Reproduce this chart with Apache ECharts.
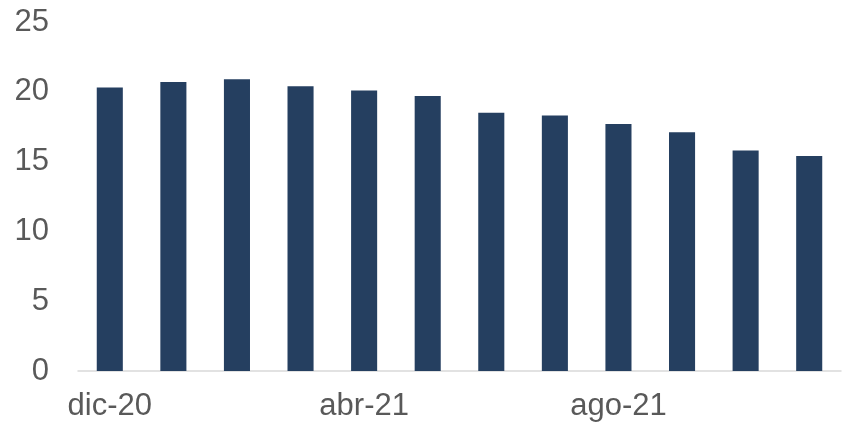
<!DOCTYPE html>
<html>
<head>
<meta charset="utf-8">
<script src="https://cdn.jsdelivr.net/npm/echarts@6/dist/echarts.min.js"></script>
<style>
  html, body { margin: 0; padding: 0; background: #ffffff; }
  #chart { width: 844px; height: 429px; }
</style>
</head>
<body>
<div id="chart"></div>
<script>
// Monthly categories (Dec 2020 – Nov 2021)
const months = ['dic-20', 'ene-21', 'feb-21', 'mar-21', 'abr-21', 'may-21',
                'jun-21', 'jul-21', 'ago-21', 'sep-21', 'oct-21', 'nov-21'];
// Series values
const values = [20.3, 20.7, 20.9, 20.4, 20.1, 19.7, 18.5, 18.3, 17.7, 17.1, 15.8, 15.4];
// Value axis ticks
const yTicks = [0, 5, 10, 15, 20, 25];

const chart = echarts.init(document.getElementById('chart'), null, { renderer: 'canvas' });

chart.setOption({
  animation: false,
  grid: { left: 78, right: 3, top: 22, bottom: 58, containLabel: false },
  xAxis: {
    type: 'category',
    data: months,
    axisLine: { show: true, lineStyle: { color: '#d9d9d9', width: 1.5 } },
    axisTick: { show: false },
    axisLabel: {
      interval: 3,
      color: '#595959',
      fontFamily: 'Liberation Sans, Arial, sans-serif',
      fontSize: 31,
      margin: 20
    }
  },
  yAxis: {
    type: 'value',
    min: yTicks[0],
    max: yTicks[yTicks.length - 1],
    interval: yTicks[1] - yTicks[0],
    splitLine: { show: false },
    axisLine: { show: false },
    axisTick: { show: false },
    axisLabel: {
      color: '#595959',
      fontFamily: 'Liberation Sans, Arial, sans-serif',
      fontSize: 31,
      margin: 29
    }
  },
  series: [{
    type: 'bar',
    data: values,
    barWidth: '41%',
    itemStyle: { color: '#253f60' }
  }]
});
</script>
</body>
</html>
